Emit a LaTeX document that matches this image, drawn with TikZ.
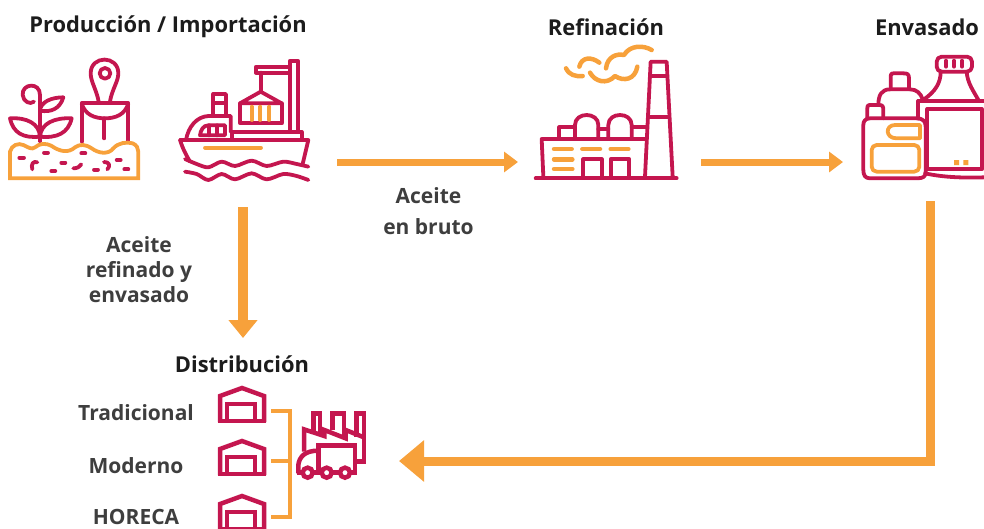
\documentclass[tikz,border=0pt]{standalone}
\usepackage{fontspec}
\setmainfont{Open Sans}
\usetikzlibrary{arrows.meta}
\definecolor{crimson}{HTML}{C4164F}
\definecolor{amber}{HTML}{F7A13B}
\definecolor{ink}{HTML}{1C1C1C}
\tikzset{
  title/.style={font=\fontsize{21.9}{24}\selectfont\bfseries,text=ink,inner sep=0pt},
  label/.style={font=\fontsize{21}{25}\selectfont\bfseries,text=ink!85,inner sep=0pt,align=center},
  ico/.style={draw=crimson,line width=3.8pt,line cap=round,line join=round},
  acc/.style={draw=amber,line width=3.8pt,line cap=round,line join=round},
  flow/.style={draw=amber,line width=7pt,-{Triangle[length=14pt,width=20pt]}},
  downflow/.style={draw=amber,line width=10pt,-{Triangle[length=18pt,width=28pt]}},
  bigflow/.style={draw=amber,line width=9pt,-{Triangle[length=25pt,width=40pt]}},
  bracket/.style={draw=amber,line width=4.5pt},
  warehouse/.pic={
    \draw[ico,line width=4.5pt,line cap=butt,line join=miter] (2,36) -- (2,10) -- (24,2) -- (46,10) -- (46,36);
    \draw[ico,line width=4.5pt,line cap=butt,line join=miter] (9,36) -- (9,18) -- (37,18) -- (37,36);
    \draw[ico,line width=4.5pt,line cap=butt] (0,35) -- (48,35);
  }
}
\begin{document}
\begin{tikzpicture}[x=1pt,y=-1pt]
\useasboundingbox (0,0) rectangle (984,528);

% Titles
\node[title] (prod) at (168,27) {Producción / Importación};
\node[title] (refi) at (606,27) {Refinación};
\node[title] (enva) at (927,27) {Envasado};
\node[title] (dist) at (242,364) {Distribución};

% Labels
\node[label] (bruto) at (428.5,211) {Aceite\\[6pt]en bruto};
\node[label] (envasado) at (139,270) {Aceite\\refinado y\\envasado};
\node[label] (trad) at (136,413) {Tradicional};
\node[label] (mode) at (136,466) {Moderno};
\node[label] (hore) at (136,517) {HORECA};

% Plant and shovel
\begin{scope}[shift={(0,40)},scale=1/3]
 \draw[ico] (120,305) -- (120,165) .. controls (120,125) and (65,130) .. (68,165) .. controls (70,185) and (90,195) .. (102,185);
 \draw[ico] (30,235) .. controls (80,232) and (118,250) .. (120,290) .. controls (70,295) and (40,280) .. (30,235) -- cycle;
 \draw[ico] (215,235) .. controls (165,232) and (122,250) .. (120,290) .. controls (170,295) and (205,280) .. (215,235) -- cycle;
 \draw[ico] (190,172) .. controls (155,172) and (122,185) .. (120,212) .. controls (155,218) and (180,205) .. (190,172) -- cycle;
 \draw[ico] (296,185) .. controls (290,150) and (272,125) .. (272,100) .. controls (272,45) and (355,45) .. (355,100) .. controls (355,125) and (335,150) .. (330,185);
 \draw[ico] (315,100) circle (16);
 \draw[ico] (245,305) -- (245,190) -- (385,190) -- (385,305);
 \draw[ico] (245,190) .. controls (255,225) and (285,235) .. (315,235) .. controls (345,235) and (375,225) .. (385,190);
 \draw[ico] (313,235) -- (313,295);
 \draw[acc,line join=miter,line cap=butt] (30,415) -- (30,335) .. controls (35,315) and (55,308) .. (70,315) .. controls (85,322) and (95,330) .. (105,322) .. controls (120,310) and (135,308) .. (155,318) .. controls (180,335) and (205,340) .. (225,322) .. controls (240,312) and (255,312) .. (275,325) .. controls (295,340) and (325,345) .. (340,325) .. controls (355,308) and (380,305) .. (398,310) .. controls (410,315) and (415,325) .. (415,335) -- (415,415) -- cycle;
 \draw[ico] (58,353) -- (72,353) (132,338) -- (144,338) (184,368) -- (196,368) (244,340) -- (256,340) (154,393) -- (166,393) (282,389) -- (294,389) (350,360) -- (362,360) (373,388) -- (385,388);
 \draw[ico] (112,367) .. controls (100,362) and (92,372) .. (97,388);
 \draw[ico] (220,385) .. controls (232,385) and (240,380) .. (244,373);
 \draw[ico] (312,366) .. controls (328,365) and (332,378) .. (322,388);
\end{scope}

% Ship
\begin{scope}[shift={(0,40)},scale=1/3]
 \draw[ico] (540,300) -- (925,300) -- (908,372);
 \draw[ico] (540,300) .. controls (548,325) and (558,345) .. (570,365);
 \draw[ico] (695,300) -- (695,276) -- (905,276) -- (905,300);
 \draw[ico] (558,300) .. controls (565,260) and (590,230) .. (625,228) -- (692,228) -- (692,276);
 \draw[ico] (600,286) .. controls (602,270) and (610,256) .. (625,256) -- (675,256) -- (675,286) -- cycle;
 \draw[ico] (628,256) -- (628,286) (652,256) -- (652,286);
 \draw[ico] (640,228) -- (640,162) -- (678,162) -- (678,228) (640,188) -- (678,188);
 \draw[ico] (870,276) -- (870,62) -- (893,62) -- (893,276);
 \draw[ico] (870,80) -- (768,80) -- (768,98) -- (870,98);
 \draw[ico] (782,98) -- (782,155);
 \draw[ico] (720,190) -- (782,155) -- (845,190) -- cycle;
 \draw[ico] (720,190) -- (720,250) -- (845,250) -- (845,190);
 \draw[acc] (755,200) -- (755,240) (781,200) -- (781,240) (808,200) -- (808,240);
 \draw[acc] (615,323) -- (783,323);
 \draw[ico] plot[smooth] coordinates {(555,357) (590,372) (625,382) (665,365) (705,378) (755,362) (800,378) (850,365) (890,372) (925,380)};
 \draw[ico] plot[smooth] coordinates {(555,395) (590,402) (625,420) (665,402) (705,418) (755,400) (800,418) (850,402) (890,408) (925,420)};
\end{scope}

% Refinery
\begin{scope}[shift={(520,40)},scale=1/3]
 \draw[ico] (47,415) -- (470,415);
 \draw[ico] (70,410) -- (65,297) -- (378,297);
 \draw[ico] (118,297) -- (118,262) -- (165,262) (235,268) -- (265,268) (335,262) -- (378,262);
 \draw[ico] (165,297) -- (165,255) .. controls (165,215) and (235,215) .. (235,255) -- (235,297);
 \draw[ico] (265,297) -- (265,255) .. controls (265,215) and (335,215) .. (335,255) -- (335,297);
 \draw[ico] (190,410) -- (190,358) -- (245,358) -- (245,410);
 \draw[ico] (272,410) -- (272,358) -- (328,358) -- (328,410);
 \draw[ico] (375,410) -- (392,65) -- (440,65) -- (458,410);
 \draw[ico] (392,108) -- (440,108) (386,232) -- (446,232);
 \draw[acc,line width=4.5pt] (102,327) -- (155,327) (187,327) -- (240,327) (272,327) -- (325,327);
 \draw[acc,line width=4.5pt] (102,358) -- (157,358) (102,387) -- (157,387);
 \draw[acc,line width=4.5pt] (138,85) .. controls (148,105) and (165,110) .. (188,108);
 \draw[acc,line width=4.5pt] (178,80) .. controls (185,50) and (215,50) .. (238,68);
 \draw[acc,line width=4.5pt] (210,98) .. controls (225,125) and (260,135) .. (285,108) .. controls (310,125) and (345,120) .. (352,80);
 \draw[acc,line width=4.5pt] (258,85) .. controls (262,50) and (290,40) .. (312,45) .. controls (330,15) and (370,15) .. (395,30);
\end{scope}

% Bottles
\begin{scope}[shift={(850,40)},scale=1/3]
 \draw[ico,rounded corners=5pt] (260,50) -- (366,50) -- (366,95) -- (260,95) -- cycle;
 \draw[ico] (288,62) -- (288,80) (312,62) -- (312,80) (336,62) -- (336,80);
 \draw[ico] (272,95) .. controls (272,130) and (255,155) .. (222,178);
 \draw[ico] (350,95) .. controls (352,130) and (372,155) .. (385,180);
 \draw[ico] (205,183) -- (402,183);
 \draw[ico] (205,183) -- (205,235);
 \draw[ico] (232,207) -- (395,207) -- (395,388) -- (232,388) -- cycle;
 \draw[ico] (225,400) .. controls (280,412) and (340,414) .. (402,412);
 \draw[ico] (60,235) -- (200,235) .. controls (220,235) and (227,245) .. (227,260) -- (227,395) .. controls (227,410) and (220,415) .. (200,415) -- (60,415) .. controls (45,415) and (40,405) .. (40,390) -- (40,255) .. controls (40,245) and (45,235) .. (60,235) -- cycle;
 \draw[ico] (52,235) -- (52,205) .. controls (52,195) and (55,195) .. (65,195) -- (88,195) .. controls (98,195) and (100,200) .. (100,210) -- (100,235);
 \draw[ico] (85,195) .. controls (85,165) and (95,148) .. (120,148) -- (180,148) .. controls (200,148) and (212,160) .. (218,178);
 \draw[ico] (122,148) -- (122,110) .. controls (122,98) and (128,100) .. (140,100) -- (160,100) .. controls (172,100) and (177,102) .. (177,115) -- (177,148);
 \draw[acc] (135,255) -- (210,255) -- (210,295) -- (140,295) .. controls (105,295) and (105,255) .. (135,255) -- cycle;
 \draw[acc,rounded corners=5pt] (65,315) -- (208,315) -- (208,395) -- (65,395) -- cycle;
 \fill[amber] (312,360) rectangle (327,375) (340,360) rectangle (355,375);
\end{scope}

% Warehouses
\pic at (218,386) {warehouse};
\pic at (218,439) {warehouse};
\pic at (218,494) {warehouse};

% Factory truck
\begin{scope}[shift={(200,380)},scale=1/3]
 \begin{scope}[every path/.style={ico,line cap=butt,line join=miter,line width=4.5pt}]
 \draw (340,155) -- (340,100) -- (360,100) -- (360,160);
 \draw (397,150) -- (397,100) -- (432,100) -- (432,170);
 \draw (470,170) -- (470,100) -- (492,100) -- (492,245) -- (465,245);
 \draw (312,215) -- (312,148) -- (373,168) -- (373,150) -- (437,175) -- (437,150) -- (492,172);
 \draw (295,280) -- (295,255) .. controls (298,230) and (315,212) .. (355,212);
 \draw (355,275) -- (355,197) -- (465,197) -- (465,275);
 \draw (290,278) -- (470,278);
 \draw[fill=white] (323,278) circle (15);
 \draw[fill=white] (380,278) circle (15);
 \draw[fill=white] (435,278) circle (15);
 \end{scope}
\end{scope}

% Connector ends
\coordinate (shipout) at (337,162);
\coordinate (refiin) at (518,162);
\coordinate (refiout) at (701,162);
\coordinate (envain) at (843,162);
\coordinate (envaout) at (930,201);
\coordinate (corner) at (930,461);
\coordinate (distin) at (399,461);
\coordinate (shipdown) at (243,207);
\coordinate (distup) at (243,338);
\coordinate (wone) at (271,411);
\coordinate (wtwo) at (271,461);
\coordinate (wthree) at (271,517);
\coordinate (btop) at (290,411);
\coordinate (bmid) at (290,461);
\coordinate (bbot) at (290,517);

% Arrows
\draw[flow] (shipout) -- (refiin);
\draw[flow] (refiout) -- (envain);
\draw[downflow] (shipdown) -- (distup);
\draw[bigflow] (envaout) -- (corner) -- (distin);

% Bracket
\draw[bracket] (wone) -- (btop) -- (bbot) -- (wthree);
\draw[bracket] (wtwo) -- (bmid);

\end{tikzpicture}
\end{document}
